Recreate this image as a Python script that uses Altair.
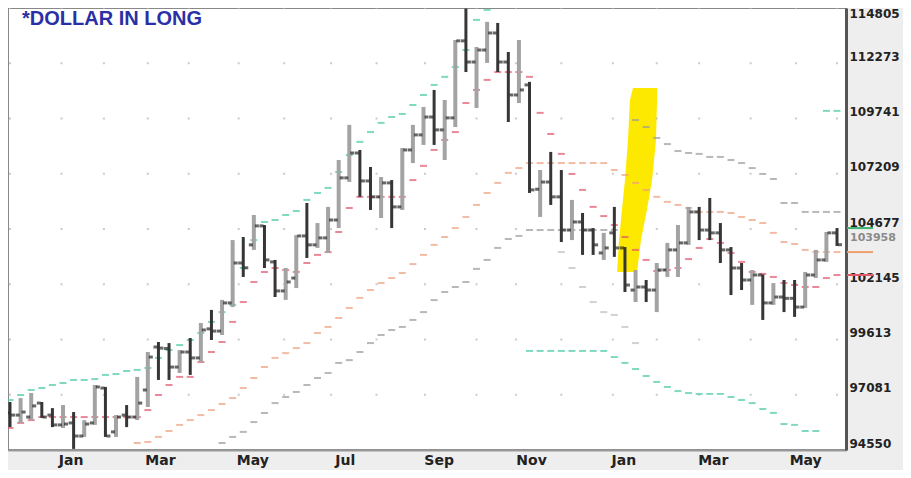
import altair as alt
import pandas as pd

# ---------------- data (dollar index, weekly bars) ----------------
first_week = "2021-11-22"
n_weeks = 79

opens = [96.25, 96.15, 96.06, 96.70, 96.15, 95.70, 95.79, 95.19, 95.79, 97.39,
         95.38, 96.15, 96.06, 97.30, 99.27, 99.20, 98.35, 99.04, 98.77, 100.10,
         100.00, 101.29, 103.12, 103.95, 104.82, 103.17, 101.84, 102.43, 104.36, 103.95,
         104.27, 105.09, 107.02, 108.16, 106.88, 106.15, 106.79, 105.69, 108.30, 108.99,
         109.81, 109.22, 109.77, 113.30, 112.33, 112.88, 113.66, 112.33, 110.82, 111.28,
         106.50, 106.83, 106.15, 104.63, 105.00, 104.63, 103.58, 104.50, 103.81, 101.88,
         102.02, 101.88, 102.80, 103.72, 104.04, 105.46, 104.63, 104.50, 103.72, 102.89,
         102.34, 102.57, 101.29, 101.56, 101.50, 101.10, 102.57, 103.26, 104.50]
highs = [96.75, 96.93, 97.16, 96.75, 96.47, 96.61, 96.29, 95.92, 97.53, 97.44,
         96.15, 96.61, 97.90, 99.04, 99.50, 99.45, 99.13, 99.68, 100.37, 100.97,
         101.43, 104.17, 104.31, 105.32, 104.86, 103.26, 102.89, 104.40, 105.87, 104.95,
         105.69, 107.84, 109.45, 108.30, 107.52, 107.06, 106.92, 108.39, 109.45, 110.27,
         111.05, 110.59, 113.34, 114.78, 113.02, 114.17, 114.12, 112.79, 113.34, 111.42,
         107.38, 108.21, 107.38, 106.01, 105.41, 104.72, 104.50, 105.69, 103.85, 102.80,
         102.34, 103.12, 104.04, 104.86, 105.69, 105.69, 106.10, 104.95, 103.85, 103.12,
         102.80, 102.60, 102.20, 102.34, 102.34, 102.71, 103.72, 104.54, 104.72]
lows = [95.60, 95.79, 95.92, 96.02, 95.60, 95.56, 94.60, 95.15, 95.70, 95.15,
        95.15, 95.60, 95.92, 96.52, 97.76, 97.76, 98.08, 97.99, 98.58, 99.59,
        99.82, 101.10, 102.48, 103.72, 102.89, 101.56, 101.43, 101.97, 103.35, 103.81,
        103.58, 104.72, 106.83, 106.15, 105.55, 105.18, 104.72, 105.55, 107.70, 108.53,
        108.53, 107.84, 109.35, 111.87, 110.22, 112.29, 111.87, 109.58, 110.45, 106.33,
        105.23, 105.78, 104.08, 104.17, 103.49, 103.49, 103.26, 103.40, 101.79, 101.33,
        101.33, 100.87, 102.48, 102.48, 103.95, 104.17, 104.17, 103.12, 101.65, 101.88,
        101.20, 100.51, 101.20, 100.87, 100.65, 101.06, 102.43, 103.17, 103.90]
closes = [96.15, 96.29, 96.57, 96.06, 95.70, 95.74, 95.19, 95.74, 97.44, 95.19,
          96.06, 96.06, 96.70, 98.81, 99.22, 98.35, 99.04, 98.77, 100.05, 100.00,
          101.29, 103.12, 102.90, 104.82, 103.26, 101.84, 102.25, 104.36, 103.95, 104.27,
          105.09, 107.02, 108.16, 106.88, 106.15, 106.79, 105.69, 108.30, 108.99, 109.81,
          109.22, 109.77, 113.30, 112.33, 112.88, 113.66, 112.33, 110.82, 111.05, 106.47,
          106.83, 106.15, 104.63, 105.00, 104.63, 103.95, 103.81, 103.81, 102.11, 102.02,
          101.88, 102.80, 103.72, 104.04, 105.46, 104.63, 104.50, 103.72, 102.89, 102.34,
          102.57, 101.29, 101.56, 101.50, 101.10, 102.57, 103.26, 104.50, 103.958]

# indicator series: (name, first bar index, values)
cyan_upper = [96.84, 97.07, 97.30, 97.39, 97.53, 97.62, 97.76, 97.76, 97.80, 97.99,
              98.03, 98.17, 98.22, 98.31, 98.77, 99.13, 99.36, 99.59, 99.91, 100.42,
              100.87, 101.20, 102.89, 104.17, 105.00, 105.09, 105.32, 105.50, 106.01, 106.33,
              106.56, 107.29, 108.07, 108.67, 109.12, 109.54, 109.81, 109.95, 110.36, 110.82,
              111.28, 111.65, 112.10, 112.88, 114.26, 114.72]
cyan_upper_tail = [110.09, 110.09]
cyan_lower = [99.09, 99.09, 99.09, 99.09, 99.09, 99.09, 99.09, 99.09, 98.81, 98.54,
              98.26, 97.94, 97.67, 97.44, 97.25, 97.16, 97.12, 97.12, 97.12, 96.98,
              96.84, 96.70, 96.43, 96.25, 95.74, 95.70, 95.42, 95.42]
red_stop = [95.56, 95.79, 95.92, 96.06, 96.06, 96.06, 96.06, 96.06, 96.06, 96.06,
            96.06, 96.06, 96.06, 96.38, 97.07, 97.53, 97.90, 97.90, 98.58, 99.04,
            99.50, 100.42, 101.33, 102.25, 102.71, 102.89, 102.80, 102.71, 103.12, 103.49,
            103.62, 104.54, 105.64, 106.15, 106.15, 106.15, 106.15, 106.15, 106.92, 107.57,
            108.30, 108.76, 109.12, 110.45, 111.05, 111.51, 111.87, 111.87, 111.87, 111.65,
            110.00, 109.03, 108.12, 107.20, 106.47, 105.69, 105.27, 104.86, 104.31, 103.72,
            103.26, 102.75, 102.80, 102.89, 103.30, 103.81, 104.22, 104.04, 103.58, 103.17,
            102.71, 102.62, 102.48, 102.20, 102.11, 102.02, 102.02, 102.43, 102.57]
orange_band = [94.87, 94.92, 95.15, 95.42, 95.70, 95.92, 96.15, 96.38, 96.66, 96.93,
               97.39, 97.85, 98.35, 98.77, 98.99, 99.22, 99.45, 99.91, 100.19, 100.60,
               101.06, 101.52, 101.88, 102.20, 102.43, 102.66, 103.07, 103.49, 103.95, 104.31,
               104.72, 105.23, 105.78, 106.33, 106.79, 107.25, 107.47, 107.70, 107.70, 107.70,
               107.70, 107.70, 107.70, 107.70, 107.70, 107.38, 107.15, 106.79, 106.47, 106.15,
               105.92, 105.78, 105.64, 105.46, 105.46, 105.46, 105.41, 105.23, 105.09, 104.95,
               104.50, 104.08, 103.99, 103.72, 103.62, 103.62, 103.62]
gray_lower = [94.87, 95.15, 95.38, 95.83, 96.25, 96.70, 96.98, 97.21, 97.53, 97.85,
              98.08, 98.54, 98.67, 99.04, 99.45, 99.82, 100.05, 100.19, 100.51, 100.87,
              101.42, 101.79, 102.02, 102.25, 102.85, 103.26, 103.81, 104.22, 104.36, 104.63,
              104.63, 104.63, 104.63, 104.63, 104.63, 104.63, 104.63, 104.63]
gray_lower2 = [103.62, 102.89, 102.02, 101.33, 100.87, 100.74, 100.19, 99.45]
gray_upper = [109.67, 109.35, 108.85, 108.57, 108.25, 108.16, 108.12, 107.98, 107.98, 107.84,
              107.70, 107.47, 107.20, 106.97, 105.87, 105.87, 105.46, 105.46, 105.46, 105.46]

indicator_series = [
    ("cyan", 0, cyan_upper),
    ("cyan", 77, cyan_upper_tail),
    ("cyan", 49, cyan_lower),
    ("orange", 12, orange_band),
    ("gray", 20, gray_lower),
    ("lightgray", 52, gray_lower2),
    ("gray", 59, gray_upper),
    ("red", 0, red_stop),
]
series_names = ["cyan", "orange", "gray", "lightgray", "red"]
series_colors = ["#49c9a6", "#eda07e", "#9a9a9a", "#bdbdbd", "#e2566c"]

# yellow highlighter stroke (value, left edge, right edge)
yellow_values = [102.71, 104.17, 105.55, 106.92, 108.76, 110.59, 111.14]
yellow_left = ["2022-12-27T19:00:00Z", "2022-12-29T02:00:00Z", "2022-12-31T00:00:00Z",
               "2023-01-02T00:00:00Z", "2023-01-04T00:00:00Z", "2023-01-05T07:00:00Z",
               "2023-01-07T07:00:00Z"]
yellow_right = ["2023-01-10T00:00:00Z", "2023-01-12T14:00:00Z", "2023-01-16T12:00:00Z",
                "2023-01-19T22:00:00Z", "2023-01-22T12:00:00Z", "2023-01-23T05:00:00Z",
                "2023-01-23T05:00:00Z"]

axis_ticks = [94550, 97081, 99613, 102145, 104677, 107209, 109741, 112273, 114805]
grid_dates = ["2021-11-22", "2021-12-26", "2022-01-23", "2022-02-21", "2022-03-20",
              "2022-04-22", "2022-05-22", "2022-06-22", "2022-07-22", "2022-08-23",
              "2022-09-26", "2022-10-22", "2022-11-21", "2022-12-25", "2023-01-23",
              "2023-02-20", "2023-03-26", "2023-04-25", "2023-05-22"]
month_labels = [(2022, 1), (2022, 3), (2022, 5), (2022, 7), (2022, 9), (2022, 11),
                (2023, 1), (2023, 3), (2023, 5)]

title_text = "*DOLLAR IN LONG"
last_label = "103958"
last_marker_values = [104.72, 103.62, 102.57]
last_marker_colors = ["#3cb371", "#f0a070", "#e05a6a"]

# ---------------- tables ----------------
weeks = pd.date_range(first_week, periods=n_weeks, freq="7D")
week_str = [d.strftime("%Y-%m-%dT00:00:00Z") for d in weeks]

bars = pd.DataFrame({
    "date": week_str,
    "open": [v * 1000 for v in opens],
    "high": [v * 1000 for v in highs],
    "low": [v * 1000 for v in lows],
    "close": [v * 1000 for v in closes],
    "dir": ["up" if c >= o else "down" for o, c in zip(opens, closes)],
})

rows = []
for name, start, vals in indicator_series:
    for i, v in enumerate(vals):
        rows.append({"date": week_str[start + i], "v": v * 1000, "series": name})
ind = pd.DataFrame(rows)

yellow = pd.DataFrame({"v": [v * 1000 for v in yellow_values],
                       "xl": yellow_left, "xr": yellow_right})

grid = pd.DataFrame([{"date": d + "T00:00:00Z", "v": v}
                     for d in grid_dates for v in axis_ticks[1:]])

markers = pd.DataFrame({"v": [v * 1000 for v in last_marker_values],
                        "c": last_marker_colors})
last_df = pd.DataFrame({"v": [closes[-1] * 1000], "t": [last_label]})
title_df = pd.DataFrame({"t": [title_text]})

# ---------------- scales / axes ----------------
W, H = 838, 442
x_scale = alt.Scale(type="utc", domain=[
    alt.DateTime(year=2021, month=11, date=20, hours=16, minutes=19, utc=True),
    alt.DateTime(year=2023, month=5, date=27, hours=22, minutes=33, utc=True)])
x_axis = alt.Axis(
    values=[alt.DateTime(year=y, month=m, date=1, utc=True) for y, m in month_labels],
    labelExpr="utcFormat(datum.value, '%b')", title=None, grid=False, ticks=False,
    domainColor="#999999", domainWidth=2, labelFont="DejaVu Sans", labelFontSize=14,
    labelFontWeight="bold", labelColor="#222222", labelPadding=3, labelFlush=False,
    labelOverlap=False)
y_scale = alt.Scale(domain=[94550, 114805], nice=False, zero=False)
y_axis = alt.Axis(
    orient="right", values=axis_ticks, format="d", title=None, grid=False, ticks=False,
    domainColor="#555555", domainWidth=3, labelFont="DejaVu Sans", labelFontSize=12,
    labelFontWeight="bold", labelColor="#222222", labelPadding=3,
    labelOffset={"condition": {"test": "datum.value > 114000", "value": 5}, "value": -7},
    labelOverlap=False)


def X(field):
    return alt.X(field, scale=x_scale, axis=x_axis)


def Y(field):
    return alt.Y(field, scale=y_scale, axis=y_axis)


yellow_layer = alt.Chart(yellow).mark_area(orient="horizontal", color="#fde900").encode(
    y=Y("v:Q"), x=X("xl:T"), x2="xr:T")

grid_layer = alt.Chart(grid).mark_square(size=4, color="#b5b5b5").encode(
    x=X("date:T"), y=Y("v:Q"))

ind_layer = alt.Chart(ind).mark_tick(orient="horizontal", size=7, thickness=2).encode(
    x=X("date:T"), y=Y("v:Q"),
    color=alt.Color("series:N", scale=alt.Scale(domain=series_names, range=series_colors),
                    legend=None))

bar_layer = alt.Chart(bars).mark_rule().encode(
    x=X("date:T"), y=Y("low:Q"), y2="high:Q",
    color=alt.Color("dir:N", scale=alt.Scale(domain=["down", "up"],
                                             range=["#363636", "#a3a3a3"]), legend=None),
    size=alt.Size("dir:N", scale=alt.Scale(domain=["down", "up"], range=[3, 4]),
                  legend=None))

open_layer = alt.Chart(bars).mark_tick(orient="horizontal", size=4, thickness=3,
                                       xOffset=-3, color="#262626").encode(
    x=X("date:T"), y=Y("open:Q"))
close_layer = alt.Chart(bars).mark_tick(orient="horizontal", size=4, thickness=3,
                                        xOffset=3, color="#262626").encode(
    x=X("date:T"), y=Y("close:Q"))

title_layer = alt.Chart(title_df).mark_text(
    align="left", baseline="alphabetic", font="Liberation Sans", fontSize=20,
    fontWeight="bold", color="#2a2fa6").encode(
    x=alt.value(14), y=alt.value(17), text="t:N")

marker_layer = alt.Chart(markers).mark_rule(strokeWidth=2).encode(
    y=Y("v:Q"), x=alt.value(W + 1), x2=alt.value(W + 27),
    color=alt.Color("c:N", scale=None))

last_layer = alt.Chart(last_df).mark_text(
    align="left", baseline="middle", dy=-7, font="DejaVu Sans", fontSize=11,
    fontWeight="bold", color="#8a8a8a").encode(
    y=Y("v:Q"), x=alt.value(W + 4), text="t:N")

chart = alt.layer(
    yellow_layer, grid_layer, ind_layer, bar_layer, open_layer, close_layer,
    title_layer, marker_layer, last_layer
).resolve_scale(
    color="independent", size="independent"
).properties(
    width=W, height=H,
    padding={"left": 0, "top": 0, "right": 57, "bottom": 20},
    autosize=alt.AutoSizeParams(type="none"),
    background="#eeeeee",
).configure_view(fill="white", stroke="#888888", strokeWidth=2)

chart.save("out.html", embed_options={"renderer": "svg", "actions": False})
